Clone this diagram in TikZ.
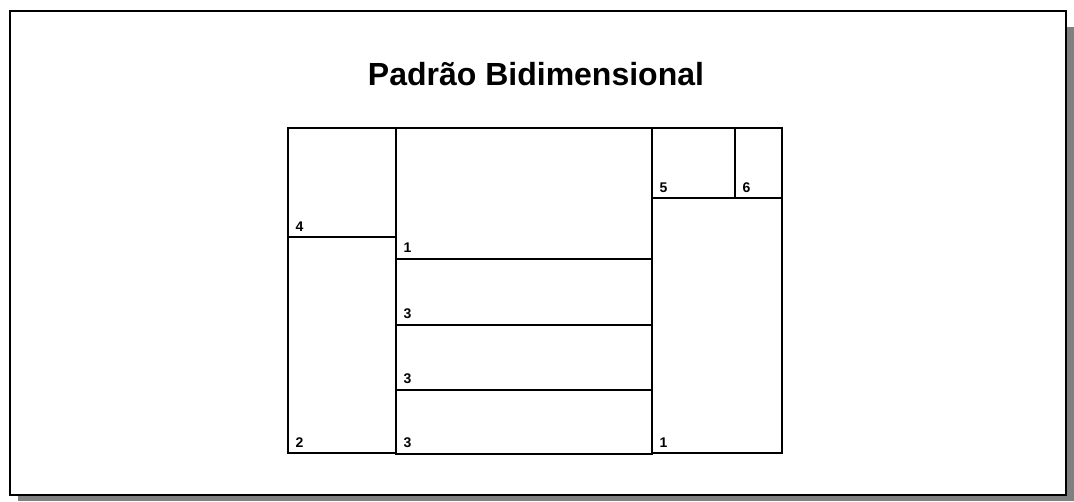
\documentclass[tikz,border=0pt]{standalone}
\usepackage{fontspec}
\setmainfont{Liberation Sans}
\usetikzlibrary{positioning}

\begin{document}
\begin{tikzpicture}[x=1pt, y=-1pt,
    cut/.style={draw=black, line width=2pt},
    num/.style={anchor=base west, inner sep=0pt, font=\fontsize{14}{14}\selectfont\bfseries}]
    \useasboundingbox (0,0) rectangle (1074,501);
    % frame with shadow
    \fill[gray] (18,27) rectangle (1074,501);
    \draw[fill=white, line width=2.6pt] (10,11) rectangle (1066,495);
    \node[anchor=base, inner sep=0pt, font=\fontsize{32}{32}\selectfont\bfseries] (title) at (536,85) {Padrão Bidimensional};
    % pieces
    \draw[cut] (288,128) rectangle (396,237);
    \draw[cut] (288,237) rectangle (396,453);
    \draw[cut] (396,128) rectangle (652,259);
    \draw[cut] (396,259) rectangle (652,325);
    \draw[cut] (396,325) rectangle (652,390);
    \draw[cut] (396,390) rectangle (652,454);
    \draw[cut] (652,128) rectangle (735,198);
    \draw[cut] (735,128) rectangle (782,198);
    \draw[cut] (652,198) rectangle (782,453);
    % labels
    \node[num] (pa) at (295.5,231) {4};
    \node[num] (pb) at (295.5,447) {2};
    \node[num] (pc) at (403.5,252) {1};
    \node[num] (pd) at (403.5,318.5) {3};
    \node[num] (pe) at (403.5,383.5) {3};
    \node[num] (pf) at (403.5,447.5) {3};
    \node[num] (pg) at (659.5,192) {5};
    \node[num] (ph) at (742.5,192) {6};
    \node[num] (pi) at (659.5,447) {1};
\end{tikzpicture}
\end{document}
